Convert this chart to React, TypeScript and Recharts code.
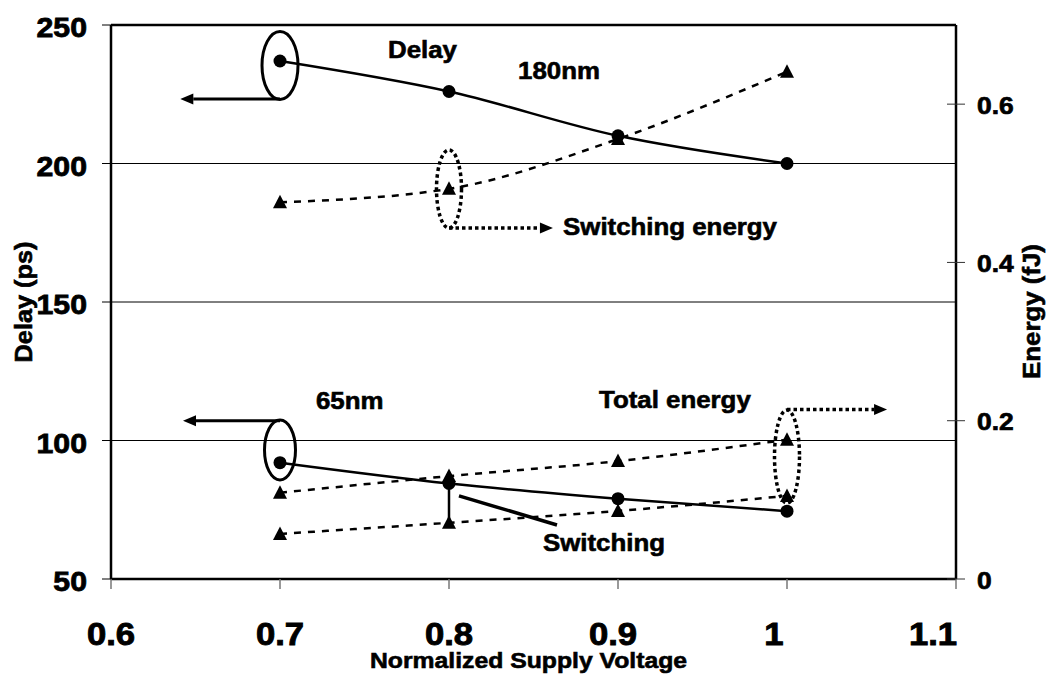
import React from 'react';
import {
  LineChart, Line, XAxis, YAxis, CartesianGrid, ReferenceLine, ReferenceDot,
} from 'recharts';

// ---- data ----
const VOLTAGE = [0.7, 0.8, 0.9, 1.0];
const DELAY_180 = [237, 226, 210, 200];
const SWITCH_E_180 = [0.476, 0.493, 0.556, 0.641];
const DELAY_65 = [92, 84.5, 79, 74.5];
const TOTAL_E_65 = [0.109, 0.13, 0.149, 0.176];
const SWITCH_E_65 = [0.057, 0.071, 0.086, 0.105];

const X_TICKS = [0.6, 0.7, 0.8, 0.9, 1.0, 1.1];
const DELAY_TICKS = [50, 100, 150, 200, 250];
const ENERGY_TICKS = [0, 0.2, 0.4, 0.6];

// ---- annotations (data coordinates on the delay axis) ----
const ELLIPSES = [
  { x: 0.7, y: 235.4, rx: 18, ry: 34, dotted: false },
  { x: 0.8, y: 190.8, rx: 12.5, ry: 39, dotted: true },
  { x: 0.7, y: 96.6, rx: 15.5, ry: 30, dotted: false },
  { x: 1.0, y: 94.2, rx: 12.5, ry: 46.5, dotted: true },
];
const ARROWS = [
  { x1: 0.7, y1: 223.3, x2: 0.641, y2: 223.3, dotted: false },
  { x1: 0.8, y1: 176.7, x2: 0.8615, y2: 176.7, dotted: true },
  { x1: 0.7, y1: 107.1, x2: 0.6426, y2: 107.1, dotted: false },
  { x1: 1.0, y1: 111.2, x2: 1.0592, y2: 111.2, dotted: true },
];
const POINTERS = [
  { x1: 0.8059, y1: 80, x2: 0.8639, y2: 69.5, w: 3.5 },
  { x1: 0.8, y1: 84.5, x2: 0.8, y2: 70.6, w: 2.5 },
];
const LABELS = [
  { x: 0.7843, y: 238.1, text: 'Delay', anchor: 'middle' },
  { x: 0.8651, y: 230.5, text: '180nm', anchor: 'middle' },
  { x: 0.8675, y: 174.2, text: 'Switching energy', anchor: 'start' },
  { x: 0.7213, y: 111.4, text: '65nm', anchor: 'start' },
  { x: 0.8888, y: 111.7, text: 'Total energy', anchor: 'start' },
  { x: 0.8556, y: 60.1, text: 'Switching', anchor: 'start' },
];

const data = VOLTAGE.map((v, i) => ({
  v,
  d180: DELAY_180[i],
  e180: SWITCH_E_180[i],
  d65: DELAY_65[i],
  t65: TOTAL_E_65[i],
  s65: SWITCH_E_65[i],
}));

const FONT = '"Liberation Sans", Arial, Helvetica, sans-serif';
const SX = 1.1;

function T({ x, y, size, anchor = 'start', rotate = 0, heavy = 0.6, children }: any) {
  return (
    <text
      transform={`translate(${x} ${y}) rotate(${rotate}) scale(${SX} 1)`}
      fontSize={size}
      fontWeight="bold"
      fontFamily={FONT}
      textAnchor={anchor}
      fill="#000"
      stroke="#000"
      strokeWidth={heavy}
    >
      {children}
    </text>
  );
}

const X_SHIFT: Record<string, number> = { '0.9': -5, '1': -13, '1.1': -23 };

function XTick(p: any) {
  const { x, y, payload } = p;
  const s = String(payload.value);
  return (
    <g>
      <line x1={x} x2={x} y1={y} y2={y + 10} stroke="#777" strokeWidth={1.5} />
      <T x={x + (X_SHIFT[s] || 0)} y={y + 66} size={31.5} anchor="middle" heavy={0.9}>{s}</T>
    </g>
  );
}

function LeftTick(p: any) {
  const { x, y, payload } = p;
  return (
    <g>
      <line x1={x - 9} x2={x} y1={y} y2={y} stroke="#000" strokeWidth={1} />
      <T x={x - 24} y={y + 12} size={27.5} anchor="end" heavy={0.8}>{String(payload.value)}</T>
    </g>
  );
}

function RightTick(p: any) {
  const { x, y, payload } = p;
  return (
    <g>
      <line x1={x - 9} x2={x + 9} y1={y} y2={y} stroke="#333" strokeWidth={1} />
      <T x={x + 21} y={y + 9.5} size={24} anchor="start" heavy={0.7}>{String(payload.value)}</T>
    </g>
  );
}

function CircleDot(p: any) {
  if (p.cx == null || p.cy == null) return <g key={p.index} />;
  return <circle key={p.index} cx={p.cx} cy={p.cy} r={6.5} fill="#000" />;
}

function TriDot(p: any) {
  if (p.cx == null || p.cy == null) return <g key={p.index} />;
  const { cx, cy } = p;
  return (
    <polygon
      key={p.index}
      points={`${cx},${cy - 7.5} ${cx + 7},${cy + 6} ${cx - 7},${cy + 6}`}
      fill="#000"
    />
  );
}

function arrowShape(dotted: boolean) {
  return (p: any) => {
    const { x1, y1, x2, y2 } = p;
    const dx = x2 - x1, dy = y2 - y1;
    const len = Math.hypot(dx, dy) || 1;
    const ux = dx / len, uy = dy / len;
    const hl = 13, hw = 5.5;
    const bx = x2 - ux * hl, by = y2 - uy * hl;
    const px = -uy, py = ux;
    return (
      <g>
        <line
          x1={x1} y1={y1} x2={bx} y2={by}
          stroke="#000"
          strokeWidth={dotted ? 3.5 : 3}
          strokeDasharray={dotted ? '3.5 3' : undefined}
        />
        <polygon
          points={`${x2},${y2} ${bx + px * hw},${by + py * hw} ${bx - px * hw},${by - py * hw}`}
          fill="#000"
        />
      </g>
    );
  };
}

function ellipseShape(rx: number, ry: number, dotted: boolean) {
  return (p: any) => (
    <ellipse
      cx={p.cx} cy={p.cy} rx={rx} ry={ry}
      fill="none" stroke="#000"
      strokeWidth={dotted ? 3.5 : 3}
      strokeDasharray={dotted ? '3.5 3' : undefined}
    />
  );
}

function textShape(text: string, anchor: string) {
  return (p: any) => <T x={p.cx} y={p.cy} size={23.5} anchor={anchor}>{text}</T>;
}

export default function App() {
  return (
    <div style={{ position: 'absolute', left: 0, top: 0, background: '#fff' }}>
      <LineChart
        width={1047}
        height={674}
        data={data}
        margin={{ top: 25, right: 0, bottom: 0, left: 0 }}
      >
        <CartesianGrid yAxisId="left" vertical={false} stroke="#000" strokeWidth={1} />
        <XAxis
          dataKey="v"
          type="number"
          domain={[0.6, 1.1]}
          ticks={X_TICKS}
          height={95}
          tickSize={0}
          tickMargin={0}
          tickLine={false}
          tick={<XTick />}
          axisLine={{ stroke: '#000', strokeWidth: 2.5 }}
          interval={0}
          label={{
            content: (p: any) => {
              const vb = p.viewBox || { x: 111, y: 579, width: 845, height: 95 };
              return (
                <T x={vb.x + vb.width / 2 - 5} y={vb.y + 89} size={22.5} anchor="middle">
                  Normalized Supply Voltage
                </T>
              );
            },
          }}
        />
        <YAxis
          yAxisId="left"
          orientation="left"
          domain={[50, 250]}
          ticks={DELAY_TICKS}
          width={111}
          tickSize={0}
          tickMargin={0}
          tickLine={false}
          tick={<LeftTick />}
          axisLine={{ stroke: '#000', strokeWidth: 2.5 }}
          interval={0}
          label={{
            content: (p: any) => {
              const vb = p.viewBox || { x: 0, y: 25, width: 111, height: 554 };
              return (
                <T x={vb.x + 31.5} y={vb.y + vb.height / 2} size={23} anchor="middle" rotate={-90}>
                  Delay (ps)
                </T>
              );
            },
          }}
        />
        <YAxis
          yAxisId="right"
          orientation="right"
          domain={[0, 0.7]}
          ticks={ENERGY_TICKS}
          width={91}
          tickSize={0}
          tickMargin={0}
          tickLine={false}
          tick={<RightTick />}
          axisLine={{ stroke: '#000', strokeWidth: 2.5 }}
          interval={0}
          label={{
            content: (p: any) => {
              const vb = p.viewBox || { x: 956, y: 25, width: 91, height: 554 };
              return (
                <T x={vb.x + 84} y={vb.y + vb.height / 2 + 9.5} size={23.5} anchor="middle" rotate={-90}>
                  Energy (fJ)
                </T>
              );
            },
          }}
        />
        <ReferenceLine yAxisId="left" y={250} stroke="#000" strokeWidth={2.5} />

        {ELLIPSES.map((e, i) => (
          <ReferenceDot
            key={'el' + i}
            yAxisId="left"
            x={e.x}
            y={e.y}
            shape={ellipseShape(e.rx, e.ry, e.dotted)}
          />
        ))}
        {ARROWS.map((a, i) => (
          <ReferenceLine
            key={'ar' + i}
            yAxisId="left"
            segment={[{ x: a.x1, y: a.y1 }, { x: a.x2, y: a.y2 }]}
            shape={arrowShape(a.dotted)}
          />
        ))}
        {POINTERS.map((a, i) => (
          <ReferenceLine
            key={'pt' + i}
            yAxisId="left"
            segment={[{ x: a.x1, y: a.y1 }, { x: a.x2, y: a.y2 }]}
            stroke="#000"
            strokeWidth={a.w}
          />
        ))}
        {LABELS.map((l, i) => (
          <ReferenceDot
            key={'lb' + i}
            yAxisId="left"
            x={l.x}
            y={l.y}
            shape={textShape(l.text, l.anchor)}
          />
        ))}

        <Line
          yAxisId="left"
          type="monotone"
          dataKey="d180"
          stroke="#000"
          strokeWidth={2.5}
          dot={<CircleDot />}
          activeDot={false}
          isAnimationActive={false}
        />
        <Line
          yAxisId="right"
          type="monotone"
          dataKey="e180"
          stroke="#000"
          strokeWidth={2.5}
          strokeDasharray="7 7"
          dot={<TriDot />}
          activeDot={false}
          isAnimationActive={false}
        />
        <Line
          yAxisId="left"
          type="monotone"
          dataKey="d65"
          stroke="#000"
          strokeWidth={2.5}
          dot={<CircleDot />}
          activeDot={false}
          isAnimationActive={false}
        />
        <Line
          yAxisId="right"
          type="monotone"
          dataKey="t65"
          stroke="#000"
          strokeWidth={2.5}
          strokeDasharray="7 7"
          dot={<TriDot />}
          activeDot={false}
          isAnimationActive={false}
        />
        <Line
          yAxisId="right"
          type="monotone"
          dataKey="s65"
          stroke="#000"
          strokeWidth={2.5}
          strokeDasharray="7 7"
          dot={<TriDot />}
          activeDot={false}
          isAnimationActive={false}
        />
      </LineChart>
    </div>
  );
}
